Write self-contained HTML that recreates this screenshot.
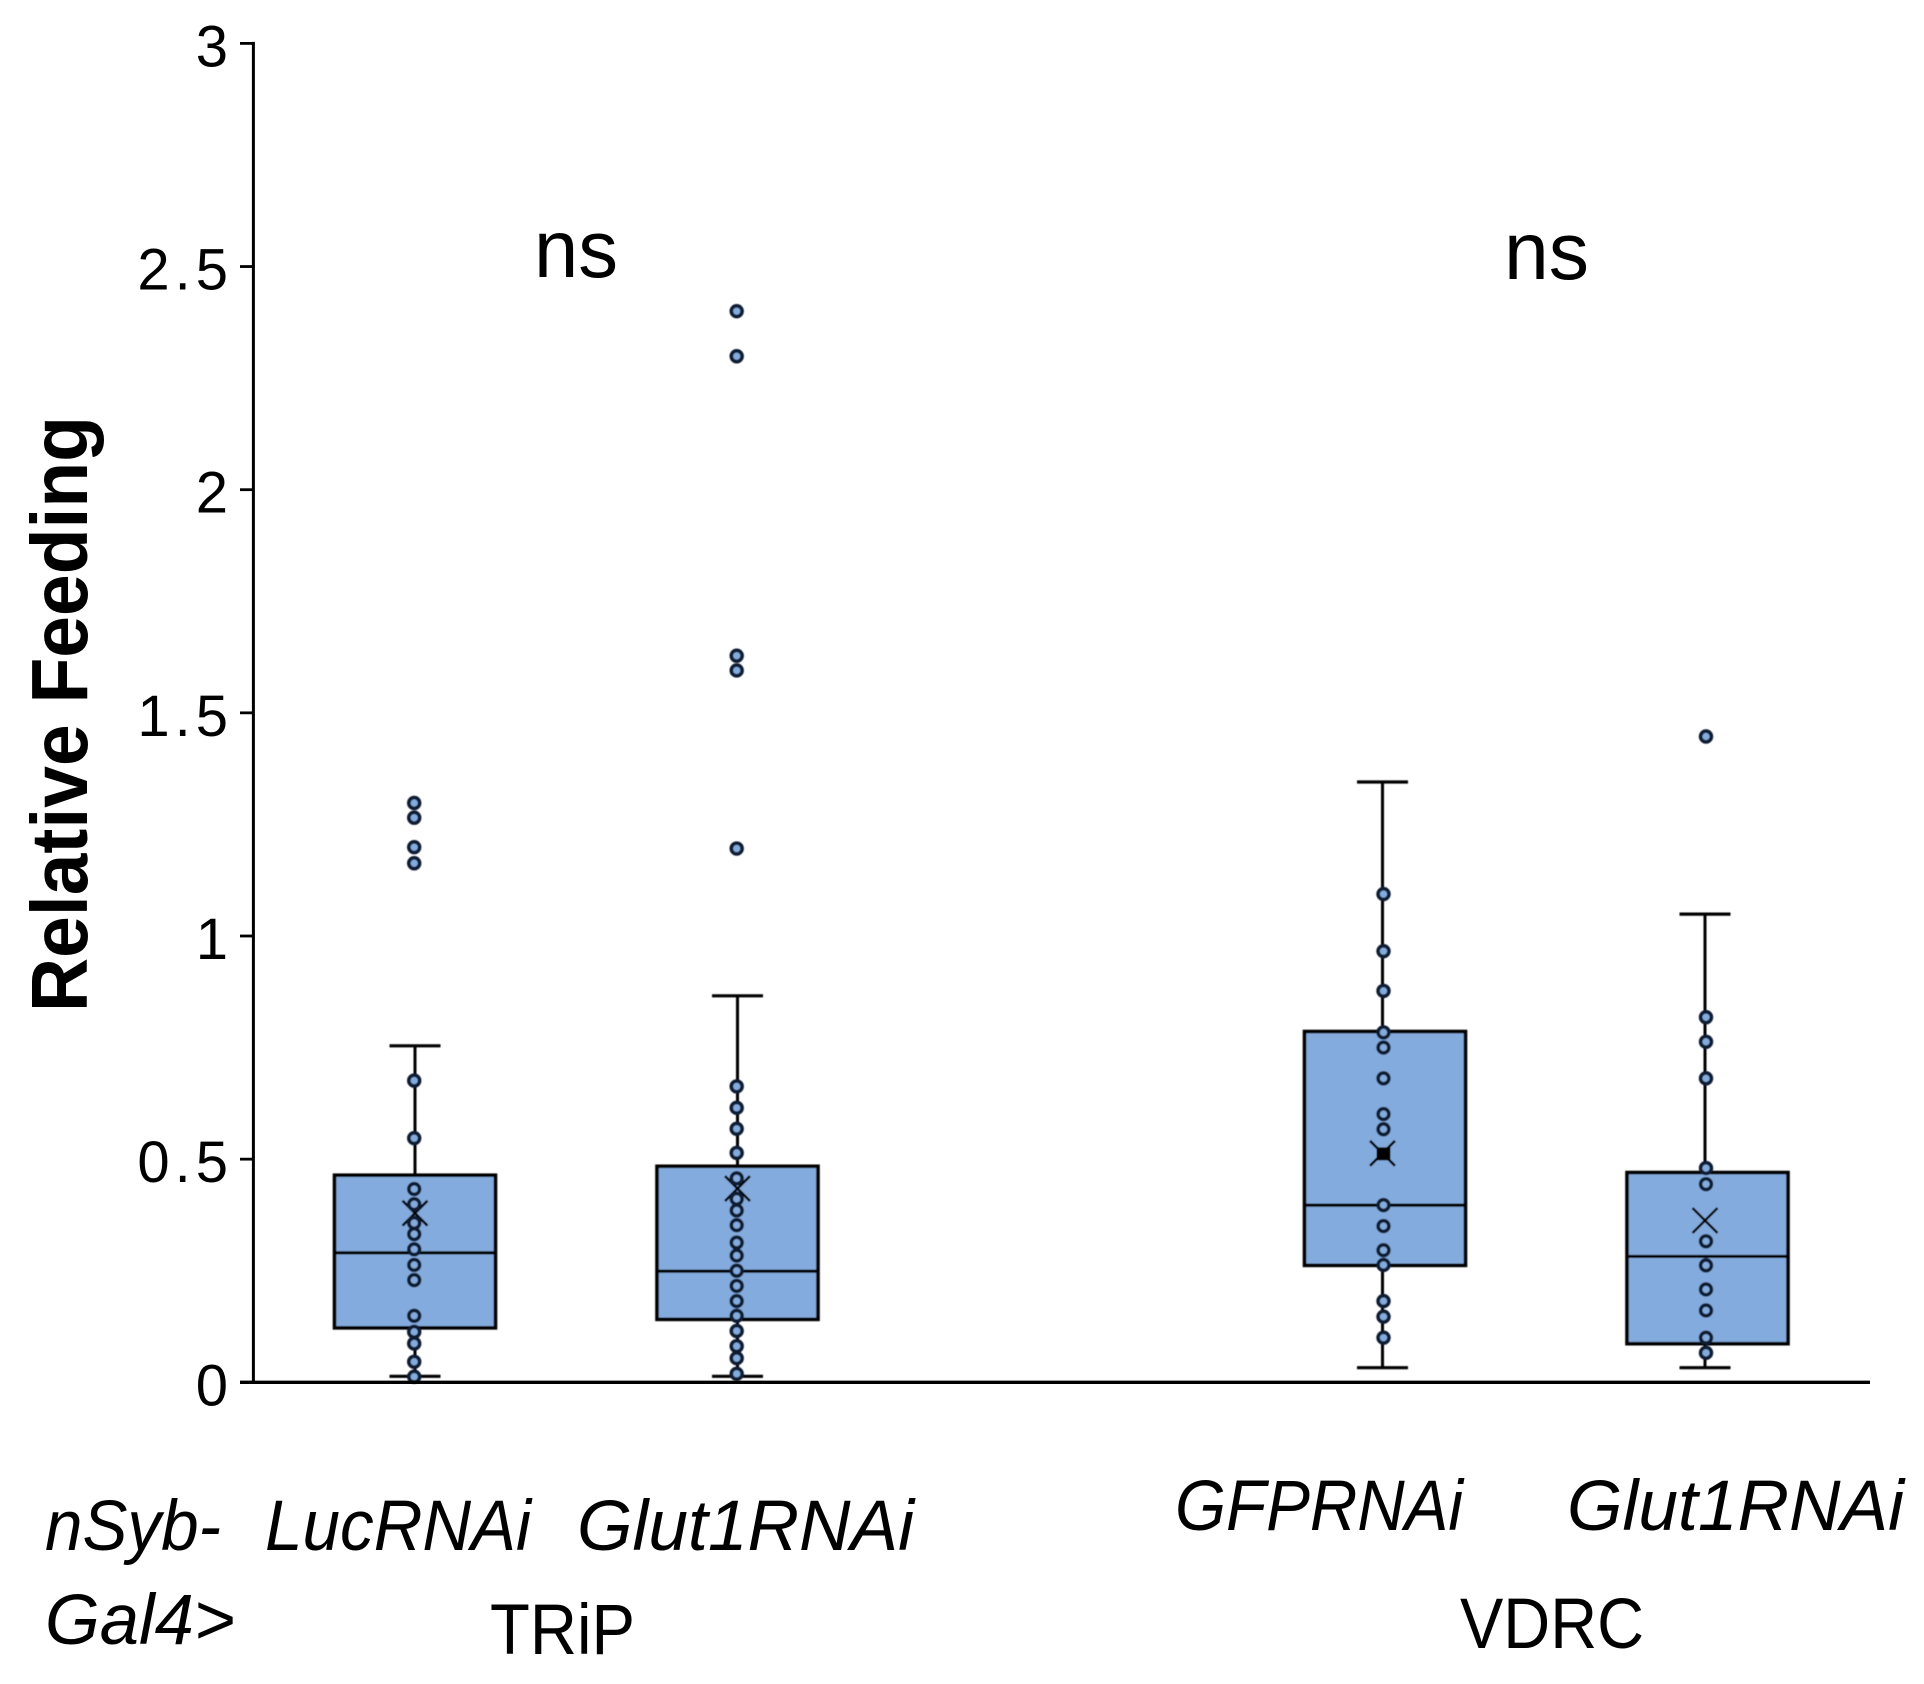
<!DOCTYPE html>
<html lang="en">
<head>
<meta charset="utf-8">
<title>Relative Feeding box plot</title>
<style>
  html, body { margin: 0; padding: 0; background: #ffffff; }
  svg { display: block; }
  text { font-family: "Liberation Sans", sans-serif; fill: #000000; }
</style>
</head>
<body>
<svg id="chart" xmlns="http://www.w3.org/2000/svg" width="1924" height="1684" viewBox="0 0 1924 1684">
  <defs>
    <filter id="soften" x="-5%" y="-5%" width="110%" height="110%">
      <feGaussianBlur stdDeviation="0.6"/>
    </filter>
  </defs>
  <rect x="0" y="0" width="1924" height="1684" fill="#ffffff"/>
  <g id="marks" filter="url(#soften)"></g>
  <g id="axes"></g>

  <text transform="translate(87 1012) rotate(-90)" font-size="80" font-weight="700" textLength="596" lengthAdjust="spacingAndGlyphs">Relative Feeding</text>

  <text x="534" y="277" font-size="82" textLength="84" lengthAdjust="spacingAndGlyphs">ns</text>
  <text x="1504" y="279" font-size="82" textLength="85" lengthAdjust="spacingAndGlyphs">ns</text>

  <text x="45" y="1550" font-size="71" font-style="italic" textLength="176" lengthAdjust="spacingAndGlyphs">nSyb-</text>
  <text x="45" y="1644" font-size="71" font-style="italic" textLength="190" lengthAdjust="spacingAndGlyphs">Gal4&gt;</text>
  <text x="265" y="1550" font-size="71" font-style="italic" textLength="266" lengthAdjust="spacingAndGlyphs">LucRNAi</text>
  <text x="577" y="1550" font-size="71" font-style="italic" textLength="337" lengthAdjust="spacingAndGlyphs">Glut1RNAi</text>
  <text x="1175" y="1530" font-size="71" font-style="italic" textLength="288" lengthAdjust="spacingAndGlyphs">GFPRNAi</text>
  <text x="1567" y="1530" font-size="71" font-style="italic" textLength="337" lengthAdjust="spacingAndGlyphs">Glut1RNAi</text>
  <text x="490" y="1654" font-size="71" textLength="145" lengthAdjust="spacingAndGlyphs">TRiP</text>
  <text x="1460" y="1648" font-size="71" textLength="184" lengthAdjust="spacingAndGlyphs">VDRC</text>
</svg>

<script>
const categories = ["LucRNAi", "Glut1RNAi", "GFPRNAi", "Glut1RNAi"];
const yTicks = [0, 0.5, 1, 1.5, 2, 2.5, 3];
const yTickLabels = ["0", "0.5", "1", "1.5", "2", "2.5", "3"];

const q1 = [0.122, 0.141, 0.262, 0.0865];
const median = [0.290, 0.249, 0.397, 0.282];
const q3 = [0.464, 0.484, 0.786, 0.470];
const whiskerLow = [0.0134, 0.0134, 0.0327, 0.0327];
const whiskerHigh = [0.754, 0.866, 1.345, 1.049];
const mean = [0.379, 0.434, 0.513, 0.3625];
const meanHasSolidCore = [false, false, true, false];

const pointsLuc = [1.298, 1.265, 1.199, 1.163, 0.676, 0.547, 0.433, 0.399, 0.357, 0.332, 0.298, 0.263, 0.229, 0.149, 0.113, 0.087, 0.046, 0.0126];
const pointsGlutTrip = [2.400, 2.299, 1.628, 1.595, 1.196, 0.663, 0.615, 0.568, 0.514, 0.457, 0.411, 0.385, 0.352, 0.313, 0.284, 0.250, 0.216, 0.182, 0.149, 0.115, 0.081, 0.054, 0.019];
const pointsGfp = [1.094, 0.966, 0.877, 0.784, 0.750, 0.681, 0.601, 0.567, 0.397, 0.350, 0.296, 0.263, 0.182, 0.147, 0.100];
const pointsGlutVdrc = [1.447, 0.818, 0.763, 0.681, 0.480, 0.444, 0.316, 0.262, 0.208, 0.161, 0.100, 0.066];
const seriesPoints = [pointsLuc, pointsGlutTrip, pointsGfp, pointsGlutVdrc];

const NS = "http://www.w3.org/2000/svg";
const marks = document.getElementById("marks");
const axes = document.getElementById("axes");

const yZero = 1382.3;
const yUnit = 446.3;
function yOf(v) { return yZero - v * yUnit; }

// Categories sit on evenly spaced slots; a one-slot gap separates TRiP from VDRC.
function xOf(i) { return 415 + 322.5 * (i + (i >= 2 ? 1 : 0)); }
// Boxes in the VDRC group sit slightly right of their whisker.
function boxCenter(i) { return xOf(i) + (i >= 2 ? 2.5 : 0); }
// Dots in the TRiP group sit slightly left of their whisker.
function dotX(i) { return xOf(i) + (i >= 2 ? 1 : -0.8); }

function make(tag, attrs, parent) {
  const el = document.createElementNS(NS, tag);
  for (const k in attrs) el.setAttribute(k, attrs[k]);
  parent.appendChild(el);
  return el;
}

const boxHalf = 80.5;
const capHalf = 25.5;
const boxFill = "#84abdd";

categories.forEach(function (name, i) {
  const x = xOf(i);
  const group = make("g", {}, marks);
  
  

  const stemHigh = make("line", { x1: x, x2: x, y1: yOf(q3[i]), y2: yOf(whiskerHigh[i]), stroke: "#000", "stroke-width": 3 }, group);
  
  

  const stemLow = make("line", { x1: x, x2: x, y1: yOf(q1[i]), y2: yOf(whiskerLow[i]), stroke: "#000", "stroke-width": 3 }, group);
  
  

  const capHigh = make("line", { x1: x - capHalf, x2: x + capHalf, y1: yOf(whiskerHigh[i]), y2: yOf(whiskerHigh[i]), stroke: "#000", "stroke-width": 3.2 }, group);
  
  

  const capLow = make("line", { x1: x - capHalf, x2: x + capHalf, y1: yOf(whiskerLow[i]), y2: yOf(whiskerLow[i]), stroke: "#000", "stroke-width": 3.2 }, group);
  
  

  const bx = boxCenter(i);
  const box = make("rect", { x: bx - boxHalf, y: yOf(q3[i]), width: boxHalf * 2, height: yOf(q1[i]) - yOf(q3[i]), fill: boxFill, stroke: "#000", "stroke-width": 3.6 }, group);
  
  

  const med = make("line", { x1: bx - boxHalf, x2: bx + boxHalf, y1: yOf(median[i]), y2: yOf(median[i]), stroke: "#000", "stroke-width": 3.2 }, group);
  
  

  const m = 12.5;
  const my = yOf(mean[i]);
  const mx = make("path", { d: "M" + (x - m) + " " + (my - m) + "L" + (x + m) + " " + (my + m) + "M" + (x + m) + " " + (my - m) + "L" + (x - m) + " " + (my + m), stroke: "#000", "stroke-width": 2.6, fill: "none" }, group);
  
  

  seriesPoints[i].forEach(function (v) {
    const dot = make("circle", { cx: dotX(i), cy: yOf(v), r: 5.4, fill: boxFill, stroke: "#0d1a33", "stroke-width": 3.6 }, group);
    
    
  });

  if (meanHasSolidCore[i]) {
    const core = make("rect", { x: x - 6, y: my - 6, width: 14, height: 13, fill: "#000" }, group);
    
    
  }
});

const yAxisLine = make("line", { x1: 253.4, x2: 253.4, y1: yOf(3) - 1.5, y2: yZero + 1.7, stroke: "#000", "stroke-width": 3 }, axes);



const xAxisLine = make("line", { x1: 240, x2: 1870, y1: yZero, y2: yZero, stroke: "#000", "stroke-width": 3.4 }, axes);



yTicks.forEach(function (v, i) {
  const tick = make("line", { x1: 240, x2: 253, y1: yOf(v), y2: yOf(v), stroke: "#000", "stroke-width": 2.8 }, axes);
  
  

  const label = make("text", { x: 233, y: yOf(v) + 23, "font-size": 58, "letter-spacing": 5, "text-anchor": "end" }, axes);
  
  
  label.textContent = yTickLabels[i];
});
</script>
</body>
</html>
